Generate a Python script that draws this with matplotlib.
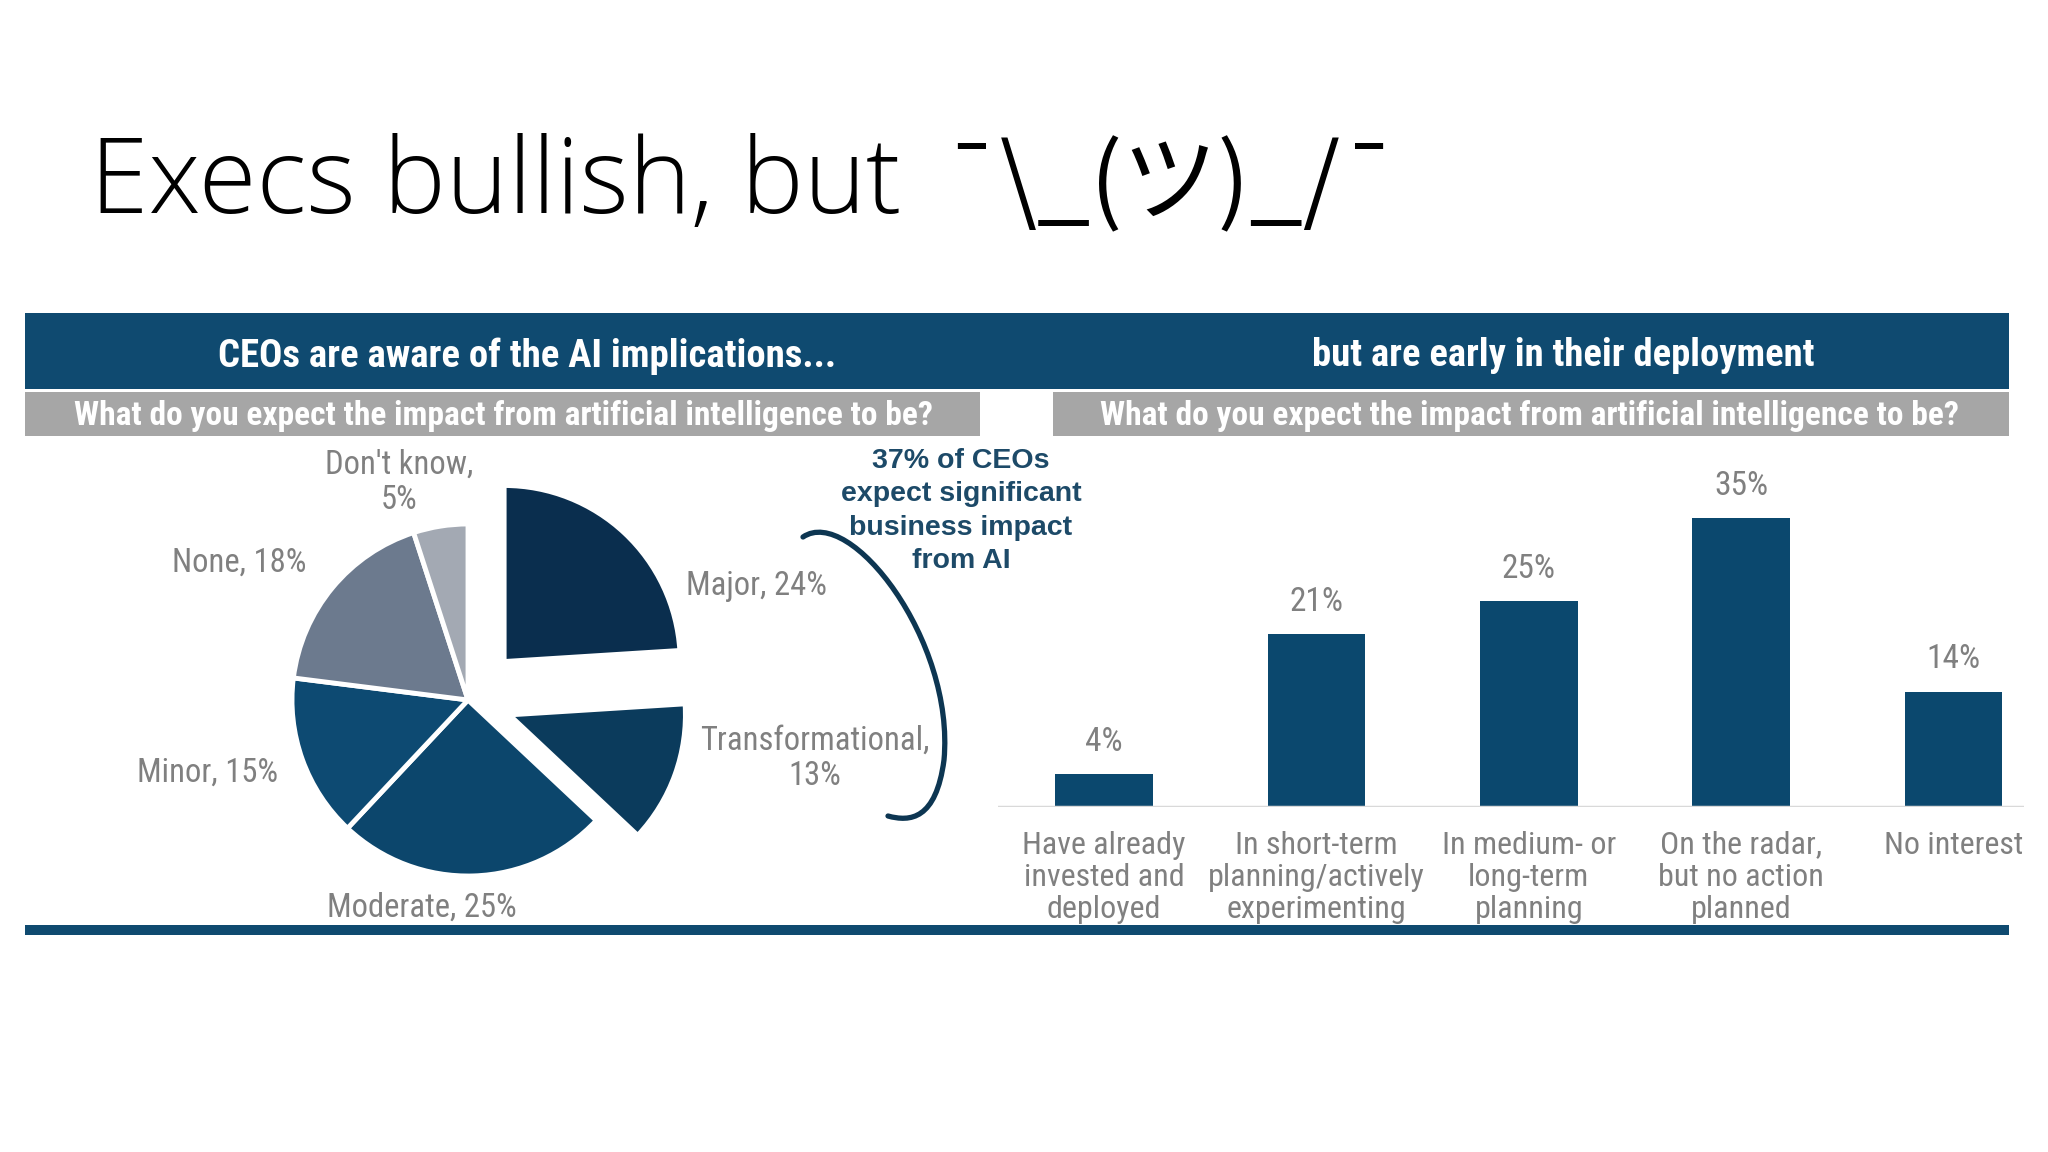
import matplotlib
matplotlib.use("Agg")
import matplotlib.pyplot as plt
from matplotlib.patches import Rectangle, PathPatch
from matplotlib.path import Path
from matplotlib import font_manager

W, H = 2048, 1152

title = "Execs bullish, but"
shrug = "¯\\_(ツ)_/¯"
left_header = "CEOs are aware of the AI implications..."
right_header = "but are early in their deployment"
question = "What do you expect the impact from artificial intelligence to be?"
callout = "37% of CEOs\nexpect significant\nbusiness impact\nfrom AI"

pie_names = ["Major", "Transformational", "Moderate", "Minor", "None", "Don't know"]
pie_values = [24, 13, 25, 15, 18, 5]
pie_colors = ["#0a2e4e", "#0b3b5c", "#0c466c", "#0d4a72", "#6c7a8e", "#a3a9b3"]

bar_categories = ["Have already\ninvested and\ndeployed",
                  "In short-term\nplanning/actively\nexperimenting",
                  "In medium- or\nlong-term\nplanning",
                  "On the radar,\nbut no action\nplanned",
                  "No interest"]
bar_values = [4, 21, 25, 35, 14]

navy = "#0f4a70"
bar_color = "#0b486e"
grey_band = "#a6a6a6"
label_grey = "#808080"
callout_color = "#1d4a68"

names = {f.name for f in font_manager.fontManager.ttflist}
narrow = "Liberation Sans"
for cand in ["Liberation Sans Narrow", "Roboto Condensed", "DejaVu Sans Condensed"]:
    if cand in names:
        narrow = cand
        break
title_font = "Open Sans" if "Open Sans" in names else "Lato"

fig = plt.figure(figsize=(W / 100, H / 100), dpi=100)
fig.patch.set_facecolor("white")

# overlay in pixel coordinates
bg = fig.add_axes([0, 0, 1, 1])
bg.set_xlim(0, W)
bg.set_ylim(H, 0)
bg.axis("off")
bg.set_zorder(3)
bg.patch.set_alpha(0)

bg.text(90, 213, title, fontsize=76, fontweight="light", color="black",
        family=[title_font, "Noto Sans CJK JP"], va="baseline", ha="left")
bg.text(942, 213, shrug, fontsize=68.5, color="black",
        family=["Noto Sans CJK JP", "DejaVu Sans"], va="baseline", ha="left")

# header bands
bg.add_patch(Rectangle((25, 313), 1984, 76, color=navy, lw=0))
bg.add_patch(Rectangle((25, 392), 955, 44, color=grey_band, lw=0))
bg.add_patch(Rectangle((1053, 392), 956, 44, color=grey_band, lw=0))
bg.add_patch(Rectangle((25, 925), 1984, 10, color=navy, lw=0))

bg.text(527, 356, left_header, color="white", fontsize=27.9, fontweight="bold",
        family=narrow, ha="center", va="center")
bg.text(1563, 356, right_header, color="white", fontsize=27.8, fontweight="bold",
        family=narrow, ha="center", va="center")
bg.text(503, 416, question, color="white", fontsize=24.1, fontweight="bold",
        family=narrow, ha="center", va="center")
bg.text(1530, 416, question, color="white", fontsize=24.1, fontweight="bold",
        family=narrow, ha="center", va="center")

bg.text(961, 511, callout, color=callout_color, fontsize=20.5, fontweight="bold",
        family="Liberation Sans", ha="center", va="center", linespacing=1.37)

# bracket
verts = [(803, 537), (850, 505), (955, 640), (944, 760),
         (936, 820), (910, 822), (888, 816)]
codes = [Path.MOVETO] + [Path.CURVE4] * 6
bg.add_patch(PathPatch(Path(verts, codes), fill=False, ec="#0d3652", lw=3.8,
                       capstyle="round"))

# pie
cx, cy, r = 468, 700, 176
s = 1.5 * r
pax = fig.add_axes([(cx - s) / W, (H - cy - s) / H, 2 * s / W, 2 * s / H])
pax.patch.set_visible(False)
explode = [0.3, 0.25, 0, 0, 0, 0]
pax.pie(pie_values, colors=pie_colors, startangle=90, counterclock=False,
        explode=explode, wedgeprops=dict(edgecolor="white", linewidth=3.5))
pax.set_xlim(-1.5, 1.5)
pax.set_ylim(-1.5, 1.5)

label_pos = [(1.64, 0.65), (1.97, -0.33), (-0.26, -1.18), (-1.48, -0.41),
             (-1.30, 0.78), (-0.39, 1.235)]
for name, v, (lx, ly) in zip(pie_names, pie_values, label_pos):
    sep = ",\n" if name in ("Transformational", "Don't know") else ", "
    pax.text(lx, ly, f"{name}{sep}{v}%", color=label_grey, fontsize=23.5,
             family=narrow, ha="center", va="center", linespacing=1.12)

# bars
x0, step = 1104, 212.4
left = x0 - 0.5 * step
right = x0 + 4.33 * step
base, per = 807, 8.25
top = base - 40 * per
bax = fig.add_axes([left / W, (H - base) / H, (right - left) / W, (base - top) / H])
bax.patch.set_visible(False)
xs = range(len(bar_values))
bax.bar(xs, bar_values, width=0.46, color=bar_color)
bax.set_xlim(-0.5, 4.33)
bax.set_ylim(0, 40)
for sp in bax.spines.values():
    sp.set_visible(False)
bax.axhline(0, color="#d9d9d9", lw=2.5)
bax.set_yticks([])
bax.set_xticks(list(xs))
bax.set_xticklabels(bar_categories, fontsize=23, color=label_grey, family=narrow,
                    linespacing=1.135)
bax.tick_params(axis="x", length=0, pad=17)
for i, v in zip(xs, bar_values):
    bax.text(i, v + 3.9, f"{v}%", ha="center", va="center", fontsize=24,
             color=label_grey, family=narrow)

fig.savefig("out.png", dpi=100, facecolor="white")
